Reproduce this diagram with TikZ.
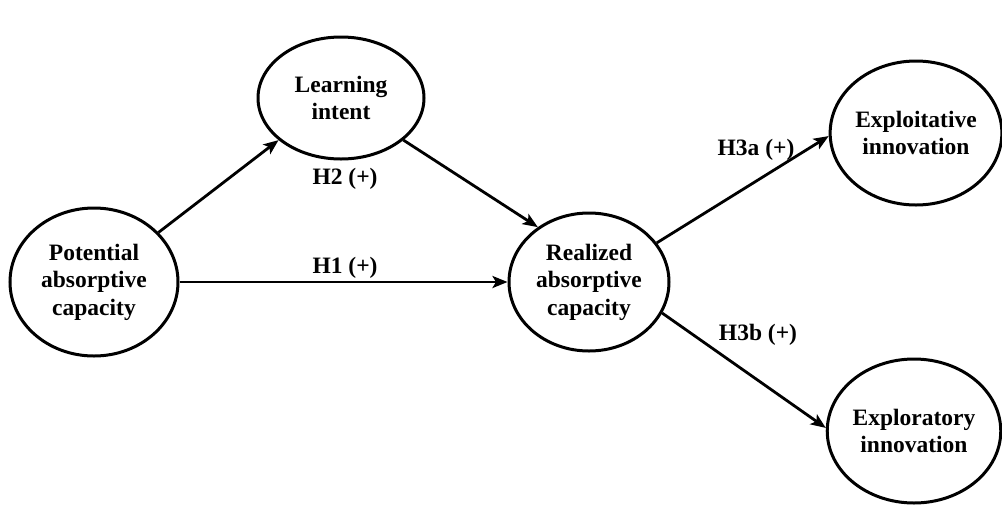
\documentclass[tikz,border=0pt]{standalone}
\usepackage{fontspec}
\setmainfont{Liberation Serif}
\usetikzlibrary{shapes.geometric,arrows.meta}
\begin{document}
\begin{tikzpicture}[x=1pt,y=-1pt,
  construct/.style={ellipse,draw,line width=3pt,inner sep=0pt,align=center,
    font=\fontsize{23.5}{27.5}\selectfont\bfseries},
  link/.style={line width=2.8pt,-{Stealth[length=15pt,width=12pt,inset=3.5pt]}},
  hyp/.style={font=\fontsize{23.5}{27.5}\selectfont\bfseries,inner sep=0pt}]
\useasboundingbox (0,0) rectangle (1002,507);
\node[construct,minimum width=168pt,minimum height=148pt] (P) at (94,282) {Potential\\absorptive\\capacity};
\node[construct,minimum width=166pt,minimum height=122pt] (L) at (341,98) {Learning\\intent};
\node[construct,minimum width=160pt,minimum height=138pt] (R) at (589,282) {Realized\\absorptive\\capacity};
\node[construct,minimum width=147pt,minimum height=144pt] (E1) at (916,133) {Exploitative\\innovation};
\node[construct,minimum width=154pt,minimum height=144pt] (E2) at (914,431) {Exploratory\\innovation};
\draw[link] (P) -- (L.-146);
\draw[link] (L.-34) -- (R.133);
\draw[link] (P.east) -- (R.west);
\draw[link] (R.30) -- (E1.182);
\draw[link] (R.-23) -- (E2.178);
\node[hyp] (h2) at (345,179) {H2 (+)};
\node[hyp] (h1) at (345,268) {H1 (+)};
\node[hyp] (h3a) at (756,150) {H3a (+)};
\node[hyp] (h3b) at (758,335) {H3b (+)};
\end{tikzpicture}
\end{document}
